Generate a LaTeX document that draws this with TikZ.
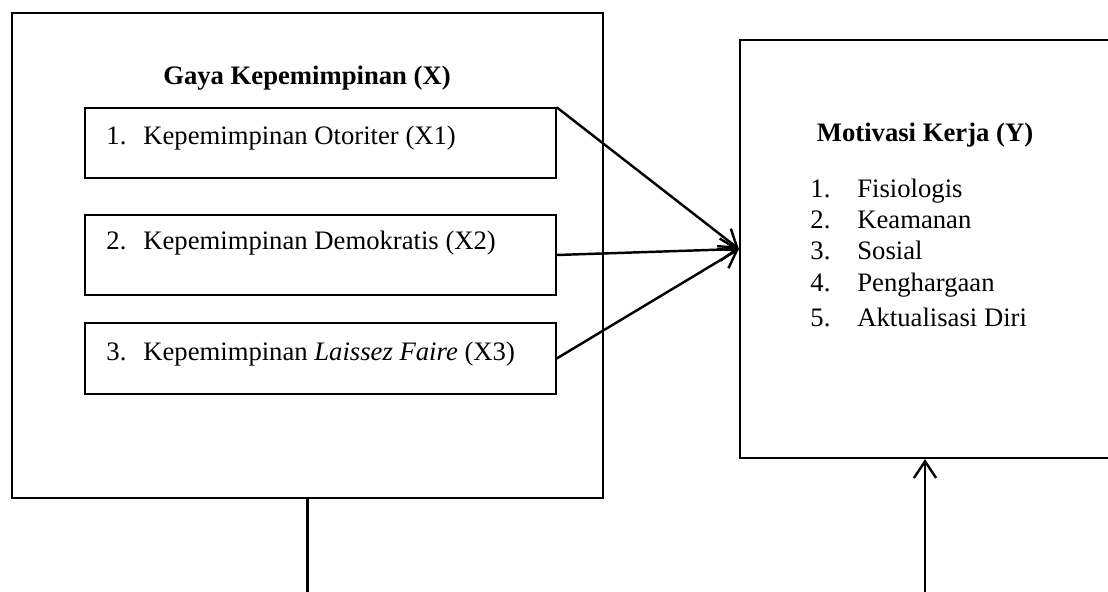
\documentclass[tikz,border=0pt]{standalone}
\usepackage{fontspec}
\setmainfont{Liberation Serif}
\usetikzlibrary{arrows.meta}

\tikzset{
  outerbox/.style={draw,line width=1pt,inner sep=0pt},
  itembox/.style={draw,line width=0.6pt,minimum width=211.95pt,inner sep=0pt},
  txt/.style={inner sep=0pt,font=\fontsize{12}{14.4}\selectfont},
  head/.style={inner sep=0pt,font=\fontsize{12}{14.4}\selectfont\bfseries},
  arr/.style={line width=1.1pt,-{Straight Barb[length=7.5pt,width=10pt,line width=1.1pt]}},
  plain/.style={line width=1pt}
}

\begin{document}
\begin{tikzpicture}[x=0.45pt,y=-0.45pt]
\useasboundingbox (0,0) rectangle (1108,592);
\clip (0,0) rectangle (1108,592);
% left box
\node[outerbox,minimum width=265.95pt,minimum height=218.25pt] (X) at (307.5,255.5) {};
\node[head] (tX) at (307,78) {Gaya Kepemimpinan (X)};
\node[itembox,minimum height=31.5pt] (b1) at (320.5,143) {};
\node[itembox,minimum height=36pt] (b2) at (320.5,255) {};
\node[itembox,minimum height=31.95pt] (b3) at (320.5,358.5) {};
\node[txt,anchor=base west] (t1) at (106,145) {\makebox[16.6pt][l]{1.}Kepemimpinan Otoriter (X1)};
\node[txt,anchor=base west] (t2) at (106,250) {\makebox[16.6pt][l]{2.}Kepemimpinan Demokratis (X2)};
\node[txt,anchor=base west] (t3) at (106,360) {\makebox[16.6pt][l]{3.}Kepemimpinan \textit{Laissez Faire} (X3)};
% right box
\node[outerbox,minimum width=166.5pt,minimum height=188.1pt] (Y) at (925,249) {};
\node[head] (tY) at (925,135) {Motivasi Kerja (Y)};
\node[txt,anchor=base west] (y1) at (810,198) {\makebox[21.1pt][l]{1.}Fisiologis};
\node[txt,anchor=base west] (y2) at (810,229) {\makebox[21.1pt][l]{2.}Keamanan};
\node[txt,anchor=base west] (y3) at (810,260) {\makebox[21.1pt][l]{3.}Sosial};
\node[txt,anchor=base west] (y4) at (810,292) {\makebox[21.1pt][l]{4.}Penghargaan};
\node[txt,anchor=base west] (y5) at (810,326) {\makebox[21.1pt][l]{5.}Aktualisasi Diri};
% arrows
\draw[arr] (b1.north east) -- (Y.west);
\draw[arr] (b2.east) -- (Y.west);
\draw[arr] (b3.east) -- (Y.west);
\coordinate (xbot) at (307.5,592);
\coordinate (ybot) at (925,592);
\draw[plain] (X.south) -- (xbot);
\draw[arr] (ybot) -- (Y.south);
\end{tikzpicture}
\end{document}
